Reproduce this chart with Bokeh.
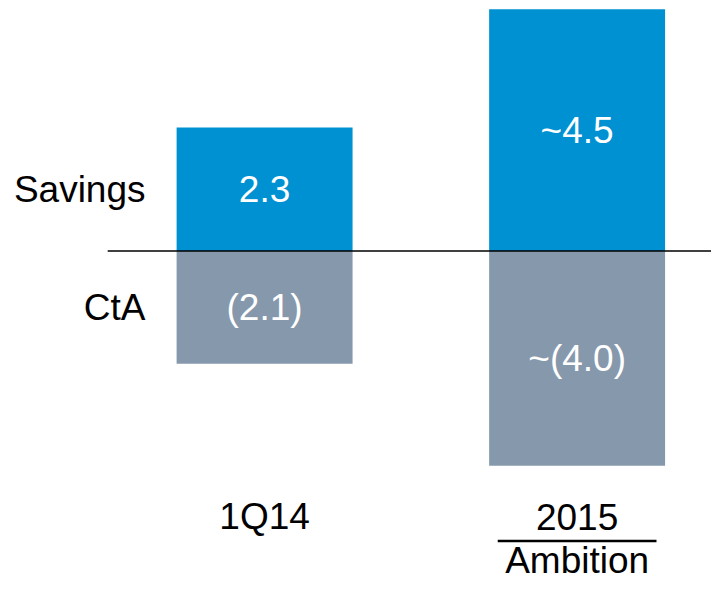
from bokeh.plotting import figure
from bokeh.models import Range1d, ColumnDataSource
from bokeh.core.properties import value
from bokeh.embed import file_html
from bokeh.resources import INLINE

categories = ["1Q14", "2015"]
sub_labels = ["", "Ambition"]
savings = [2.3, 4.5]
cta = [-2.1, -4.0]
savings_text = ["2.3", "~4.5"]
cta_text = ["(2.1)", "~(4.0)"]
row_labels = ["Savings", "CtA"]

BLUE = "#0091D2"
GREY = "#8698AC"
FONT = "Liberation Sans"
FS = "37px"

xs = list(range(len(categories)))

p = figure(width=711, height=581, output_backend="svg", toolbar_location=None,
           x_range=Range1d(-0.845, 1.430), y_range=Range1d(-6.155, 4.665),
           min_border=0)
p.axis.visible = False
p.grid.visible = False
p.outline_line_color = None
p.background_fill_color = "white"
p.border_fill_color = "white"

src = ColumnDataSource(dict(x=xs, s=savings, c=cta,
                            st=savings_text, ct=cta_text,
                            smid=[v / 2 for v in savings],
                            cmid=[v / 2 for v in cta],
                            cat=categories, sub=sub_labels))

bw = 0.563
p.vbar(x="x", bottom=0, top="s", width=bw, source=src, fill_color=BLUE, line_color=None)
p.vbar(x="x", bottom="c", top=0, width=bw, source=src, fill_color=GREY, line_color=None)

# baseline
p.segment(x0=[-0.502], y0=[0], x1=[1.6], y1=[0], line_color="black", line_width=1.5)

# value labels
p.text(x="x", y="smid", text="st", source=src, text_color="white",
       text_font=value(FONT), text_font_size=FS, text_align="center", text_baseline="middle")
p.text(x="x", y="cmid", text="ct", source=src, text_color="white",
       text_font=value(FONT), text_font_size=FS, text_align="center", text_baseline="middle")

# row labels, aligned to first bar's segments
p.text(x=[xs[0] - 0.381] * 2, y=[savings[0] / 2, cta[0] / 2], text=row_labels,
       text_color="black", text_font=value(FONT), text_font_size=FS,
       text_align="right", text_baseline="middle")

# category labels
p.text(x="x", y=-4.95, text="cat", source=src, text_color="black",
       text_font=value(FONT), text_font_size=FS, text_align="center", text_baseline="middle")
p.text(x="x", y=-5.76, text="sub", source=src, text_color="black",
       text_font=value(FONT), text_font_size=FS, text_align="center", text_baseline="middle")
# underline separating 2015 / Ambition
p.segment(x0=[xs[1] - 0.254], y0=[-5.40], x1=[xs[1] + 0.254], y1=[-5.40],
          line_color="black", line_width=2.5)

open("out.html", "w").write(file_html(p, INLINE))
